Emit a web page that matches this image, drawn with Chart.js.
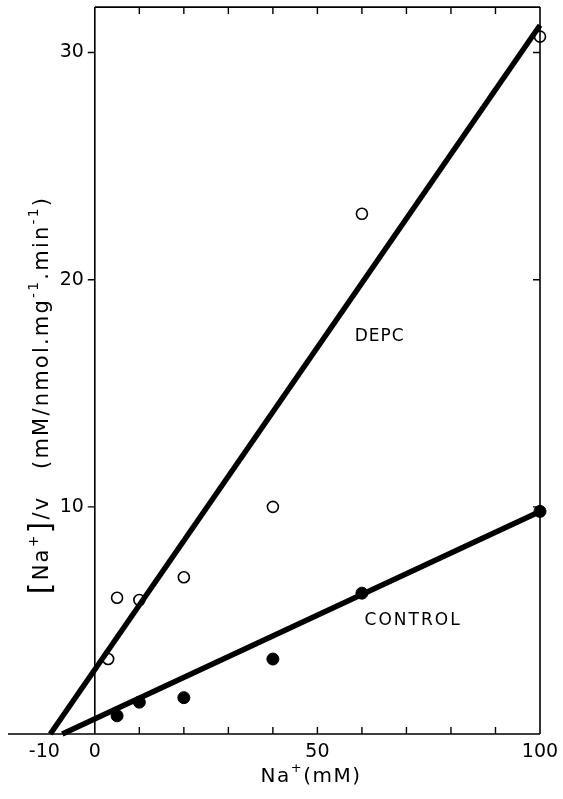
<!DOCTYPE html>
<html>
<head>
<meta charset="utf-8">
<script src="https://cdn.jsdelivr.net/npm/chart.js@4/dist/chart.umd.min.js"></script>
<style>
  html, body { margin: 0; padding: 0; background: #fff; }
  #wrap { width: 563px; height: 799px; }
</style>
</head>
<body>
<div id="wrap"><canvas id="c" width="563" height="799"></canvas></div>
<script>
// 資料 - 從圖上讀取
const depcX = [3, 5, 10, 20, 40, 60, 100];
const depcY = [3.3, 6.0, 5.9, 6.9, 10.0, 22.9, 30.7];
const controlX = [5, 10, 20, 40, 60, 100];
const controlY = [0.8, 1.4, 1.6, 3.3, 6.2, 9.8];

// 回歸線端點
const depcLineX = [-10, 100];
const depcLineY = [0, 31.2];
const controlLineX = [-7.3, 100];
const controlLineY = [0, 9.8];

// 刻度
const xTicks = [0, 10, 20, 30, 40, 50, 60, 70, 80, 90, 100];
const xTickLabels = [-10, 0, 50, 100];
const yTicks = [10, 20, 30];

const toPoints = (xs, ys) => xs.map((x, i) => ({ x, y: ys[i] }));

const FONT = '"DejaVu Sans", sans-serif';

// 上下標文字: parts = [text, kind], kind: 0 一般, 1 上標, 2 大括號
function drawRich(ctx, parts, cx, cy, size, spacing) {
  ctx.letterSpacing = spacing + 'px';
  const fontOf = k => (k === 1 ? Math.round(size * 0.65) : k === 2 ? Math.round(size * 1.45) : size) + 'px ' + FONT;
  const widths = parts.map(p => { ctx.font = fontOf(p[1]); return ctx.measureText(p[0]).width; });
  const total = widths.reduce((s, w) => s + w, 0);
  let x = cx - total / 2;
  ctx.textAlign = 'left';
  ctx.textBaseline = 'middle';
  parts.forEach((p, i) => {
    ctx.font = fontOf(p[1]);
    const dy = p[1] === 1 ? -size * 0.42 : p[1] === 2 ? -size * 0.05 : 0;
    ctx.fillText(p[0], x, cy + dy);
    x += widths[i];
  });
  ctx.letterSpacing = '0px';
}

// 自繪座標軸、刻度與文字
const framePlugin = {
  id: 'frame',
  afterDraw(chart) {
    const ctx = chart.ctx;
    const xs = chart.scales.x;
    const ys = chart.scales.y;
    const X = v => xs.getPixelForValue(v);
    const Y = v => ys.getPixelForValue(v);
    const x0 = X(0), x100 = X(100), xl = X(-19.5);
    const yb = Y(0), yt = Y(32);

    ctx.save();
    ctx.strokeStyle = '#000';
    ctx.lineWidth = 1.6;
    ctx.beginPath();
    // x 軸
    ctx.moveTo(xl, yb); ctx.lineTo(x100, yb);
    // 左 y 軸 (x = 0)
    ctx.moveTo(x0, yb); ctx.lineTo(x0, yt);
    // 上框 & 右框
    ctx.moveTo(x0, yt); ctx.lineTo(x100, yt);
    ctx.moveTo(x100, yt); ctx.lineTo(x100, yb);
    ctx.stroke();

    // 刻度
    ctx.lineWidth = 1.4;
    ctx.beginPath();
    xTicks.forEach(v => {
      if (v === 0 || v === 100) return;
      const px = X(v);
      ctx.moveTo(px, yb); ctx.lineTo(px, yb - 7);
      ctx.moveTo(px, yt); ctx.lineTo(px, yt + 7);
    });
    yTicks.forEach(v => {
      const py = Y(v);
      ctx.moveTo(x0, py); ctx.lineTo(x0 - 7, py);
      ctx.moveTo(x100, py); ctx.lineTo(x100 - 7, py);
    });
    ctx.stroke();

    // 刻度文字
    ctx.fillStyle = '#000';
    ctx.font = '19px ' + FONT;
    ctx.textAlign = 'center';
    ctx.textBaseline = 'middle';
    xTickLabels.forEach(v => ctx.fillText(String(v), v === -10 ? X(v) - 6 : X(v), yb + 18));
    ctx.textAlign = 'right';
    yTicks.forEach(v => ctx.fillText(String(v), x0 - 11, Y(v)));

    // x 軸標題 Na+(mM)
    drawRich(ctx, [['Na', 0], ['+', 1], ['(mM)', 0]], 311, yb + 43, 20, 1.5);

    // y 軸標題 (旋轉)
    ctx.save();
    ctx.translate(43, 395);
    ctx.rotate(-Math.PI / 2);
    drawRich(ctx, [
      ['[', 2], ['Na', 0], ['+', 1], [']', 2], ['/v', 0], ['   (mM/nmol.mg', 0], ['-1', 1],
      ['.min', 0], ['-1', 1], [')', 0]
    ], 0, 0, 21, 2.2);
    ctx.restore();

    // 曲線標註
    ctx.font = '17px ' + FONT;
    ctx.letterSpacing = '1px';
    ctx.textAlign = 'center';
    ctx.textBaseline = 'middle';
    ctx.fillText('DEPC', X(64), Y(17.5));
    ctx.letterSpacing = '2px';
    ctx.fillText('CONTROL', X(71.5), Y(5.0));
    ctx.letterSpacing = '0px';
    ctx.restore();
  }
};

new Chart(document.getElementById('c'), {
  type: 'scatter',
  data: {
    datasets: [
      {
        type: 'line',
        data: toPoints(depcLineX, depcLineY),
        borderColor: '#000',
        borderWidth: 5.5,
        pointRadius: 0,
        clip: false
      },
      {
        type: 'line',
        data: toPoints(controlLineX, controlLineY),
        borderColor: '#000',
        borderWidth: 5.5,
        pointRadius: 0,
        clip: false
      },
      {
        label: 'DEPC',
        data: toPoints(depcX, depcY),
        pointRadius: 5.5,
        pointBackgroundColor: '#fff',
        pointBorderColor: '#000',
        pointBorderWidth: 1.6,
        clip: false
      },
      {
        label: 'CONTROL',
        data: toPoints(controlX, controlY),
        pointRadius: 6,
        pointBackgroundColor: '#000',
        pointBorderColor: '#000',
        pointBorderWidth: 1,
        clip: false
      }
    ]
  },
  options: {
    responsive: false,
    animation: false,
    layout: { padding: { left: 8, right: 23, top: 5, bottom: 65 } },
    plugins: { legend: { display: false }, tooltip: { enabled: false } },
    scales: {
      x: { type: 'linear', min: -19.5, max: 100, display: false },
      y: { type: 'linear', min: 0, max: 32, display: false }
    }
  },
  plugins: [framePlugin]
});
</script>
</body>
</html>
